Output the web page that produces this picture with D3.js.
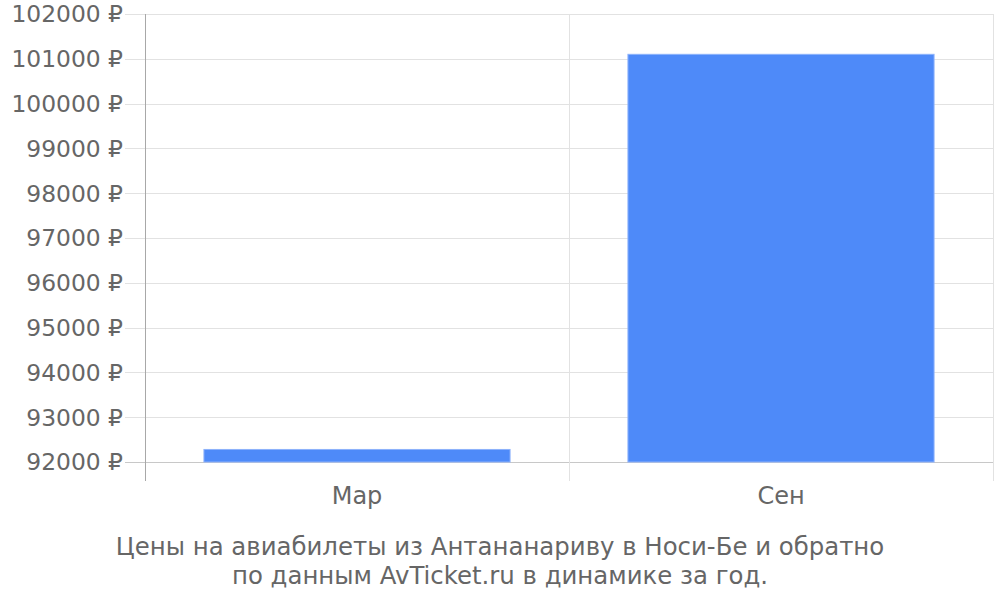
<!DOCTYPE html>
<html><head><meta charset="utf-8">
<script src="https://cdn.jsdelivr.net/npm/d3@7"></script>
<style>body{margin:0;background:#fff}svg{display:block}text{font-family:"DejaVu Sans",sans-serif;fill:#666}</style>
</head><body><svg width="1000" height="600"></svg>
<script>
const categories = ["Мар", "Сен"];
const values = [92280, 101100];
const yTicks = [92000, 93000, 94000, 95000, 96000, 97000, 98000, 99000, 100000, 101000, 102000];
const titleLines = ["Цены на авиабилеты из Антананариву в Носи-Бе и обратно", "по данным AvTicket.ru в динамике за год."];

const svg = d3.select("svg");
const L = 145, R = 993, T = 14, B = 462, axisBottom = 481;
const x = d3.scaleBand().domain(categories).range([L, R]).paddingInner(0.278).paddingOuter(0.139);
const y = d3.scaleLinear().domain([92000, 102000]).range([B, T]);

// horizontal grid + ticks
svg.append("g").selectAll("line").data(yTicks).join("line")
  .attr("x1", L - 20).attr("x2", R)
  .attr("y1", d => Math.round(y(d)) + 0.5).attr("y2", d => Math.round(y(d)) + 0.5)
  .attr("stroke", d => d === 92000 ? "#c8c8c8" : "#e2e2e2").attr("stroke-width", 1);

// vertical grid lines at band boundaries
const bounds = [L + x.step(), R];
svg.append("g").selectAll("line").data(bounds).join("line")
  .attr("x1", d => Math.round(d) + 0.5).attr("x2", d => Math.round(d) + 0.5)
  .attr("y1", T).attr("y2", axisBottom)
  .attr("stroke", "#e2e2e2");

// y labels
svg.append("g").selectAll("text").data(yTicks).join("text")
  .attr("x", L - 22).attr("y", d => y(d)).attr("dy", "0.36em")
  .attr("text-anchor", "end").attr("font-size", 23.4)
  .text(d => d + " ₽");

// bars
svg.append("g").selectAll("rect").data(values).join("rect")
  .attr("x", (d, i) => x(categories[i]))
  .attr("width", x.bandwidth())
  .attr("y", d => y(d))
  .attr("height", d => B - y(d))
  .attr("fill", "#4e8af9").attr("stroke", "#8db2fb").attr("stroke-width", 1);

// left axis line
svg.append("line").attr("x1", L + 0.5).attr("x2", L + 0.5).attr("y1", T).attr("y2", axisBottom)
  .attr("stroke", "#a8a8a8");

// x labels
svg.append("g").selectAll("text").data(categories).join("text")
  .attr("x", d => x(d) + x.bandwidth() / 2).attr("y", 504)
  .attr("text-anchor", "middle").attr("font-size", 24).text(d => d);

// title
svg.append("g").selectAll("text").data(titleLines).join("text")
  .attr("x", 500).attr("y", (d, i) => 555 + i * 29)
  .attr("text-anchor", "middle").attr("font-size", 24.4).text(d => d);
</script></body></html>
